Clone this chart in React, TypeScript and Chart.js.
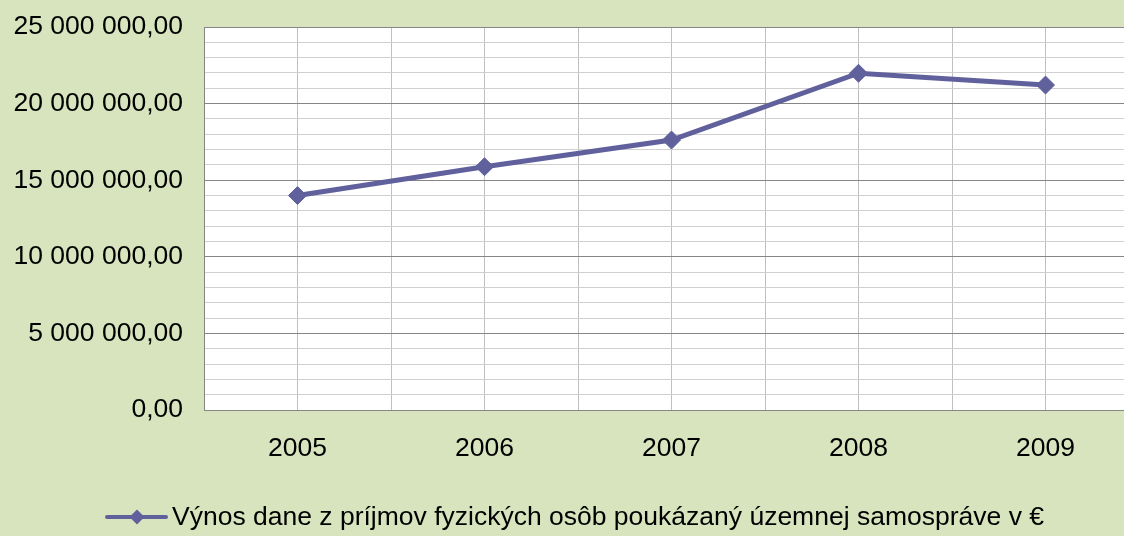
import React, { useEffect, useRef } from "react";
import { Chart, registerables } from "chart.js";

Chart.register(...registerables);

const years: number[] = [2005, 2006, 2007, 2008, 2009];
const values: number[] = [14000000, 15880000, 17620000, 21980000, 21210000];
const seriesLabel = "Výnos dane z príjmov fyzických osôb poukázaný územnej samospráve v €";
const yMax = 25000000;
const yMinorStep = 1000000;
const yMajorStep = 5000000;

const BG = "#d7e4bd";
const LINE = "#60609c";
const FONT = "'Liberation Sans', Arial, sans-serif";
const FS = 26.5;

function fmt(v: number): string {
  const s = Math.round(v).toString().replace(/\B(?=(\d{3})+(?!\d))/g, " ");
  return s + ",00";
}

const plotBgPlugin = {
  id: "plotBg",
  beforeDraw(chart: any) {
    const { ctx, chartArea } = chart;
    ctx.save();
    ctx.fillStyle = "#ffffff";
    ctx.fillRect(chartArea.left, chartArea.top, chartArea.right - chartArea.left, chartArea.bottom - chartArea.top);
    ctx.restore();
  },
};

const legendPlugin = {
  id: "customLegend",
  afterDraw(chart: any) {
    const ctx = chart.ctx;
    const y = 517;
    ctx.save();
    ctx.strokeStyle = LINE;
    ctx.lineWidth = 4;
    ctx.lineCap = "round";
    ctx.beginPath();
    ctx.moveTo(107, y);
    ctx.lineTo(166, y);
    ctx.stroke();
    ctx.fillStyle = LINE;
    ctx.beginPath();
    const r = 7.5;
    ctx.moveTo(137, y - r);
    ctx.lineTo(137 + r, y);
    ctx.lineTo(137, y + r);
    ctx.lineTo(137 - r, y);
    ctx.closePath();
    ctx.fill();
    ctx.fillStyle = "#000";
    ctx.font = `${FS}px ${FONT}`;
    ctx.textBaseline = "middle";
    ctx.textAlign = "left";
    ctx.fillText(seriesLabel, 172, y + 1);
    ctx.restore();
  },
};

export default function App() {
  const ref = useRef<HTMLCanvasElement | null>(null);
  useEffect(() => {
    if (!ref.current) return;
    const chart = new Chart(ref.current, {
      type: "line",
      data: {
        datasets: [
          {
            label: seriesLabel,
            data: years.map((yr, i) => ({ x: yr, y: values[i] })),
            borderColor: LINE,
            backgroundColor: LINE,
            borderWidth: 5,
            pointStyle: "rectRot",
            pointRadius: 9,
            pointBorderWidth: 1,
            pointBackgroundColor: LINE,
            pointBorderColor: LINE,
            tension: 0,
          },
        ],
      },
      plugins: [plotBgPlugin, legendPlugin],
      options: {
        animation: false,
        responsive: false,
        maintainAspectRatio: false,
        layout: { padding: { top: 27, left: 0, right: 21, bottom: 0 } },
        plugins: { legend: { display: false }, tooltip: { enabled: false } },
        scales: {
          x: {
            type: "linear",
            min: 2004.5,
            max: 2009.5,
            afterBuildTicks(scale: any) {
              const t = [];
              for (let v = 2004.5; v <= 2009.51; v += 0.5) t.push({ value: v });
              scale.ticks = t;
            },
            afterFit(scale: any) {
              scale.height = 126;
              scale.paddingLeft = 0;
              scale.paddingRight = 0;
            },
            ticks: {
              autoSkip: false,
              maxRotation: 0,
              padding: 23,
              color: "#000",
              font: { family: FONT, size: FS },
              callback: (v: any) => (Number.isInteger(Number(v)) ? String(v) : ""),
            },
            grid: {
              color: "#c0c0c0",
              lineWidth: 1,
              drawTicks: false,
            },
            border: { display: true, color: "#868686", width: 1 },
          },
          y: {
            min: 0,
            max: yMax,
            afterBuildTicks(scale: any) {
              const t = [];
              for (let v = 0; v <= yMax; v += yMinorStep) t.push({ value: v });
              scale.ticks = t;
            },
            afterFit(scale: any) {
              scale.width = 204;
              scale.paddingTop = 0;
              scale.paddingBottom = 0;
            },
            ticks: {
              autoSkip: false,
              padding: 21,
              color: "#000",
              font: { family: FONT, size: FS },
              callback: (v: any) => (Number(v) % yMajorStep === 0 ? fmt(Number(v)) : ""),
            },
            grid: {
              drawTicks: false,
              color: (c: any) =>
                c.tick && c.tick.value % yMajorStep === 0 ? "#868686" : "#d0d0d0",
              lineWidth: 1,
            },
            border: { display: true, color: "#868686", width: 1 },
          },
        },
      },
    });
    return () => chart.destroy();
  }, []);

  return (
    <div
      style={{
        position: "fixed",
        left: 0,
        top: 0,
        width: 1124,
        height: 536,
        overflow: "hidden",
        background: BG,
      }}
    >
      <canvas ref={ref} width={1160} height={536} style={{ display: "block", width: 1160, height: 536 }} />
    </div>
  );
}
